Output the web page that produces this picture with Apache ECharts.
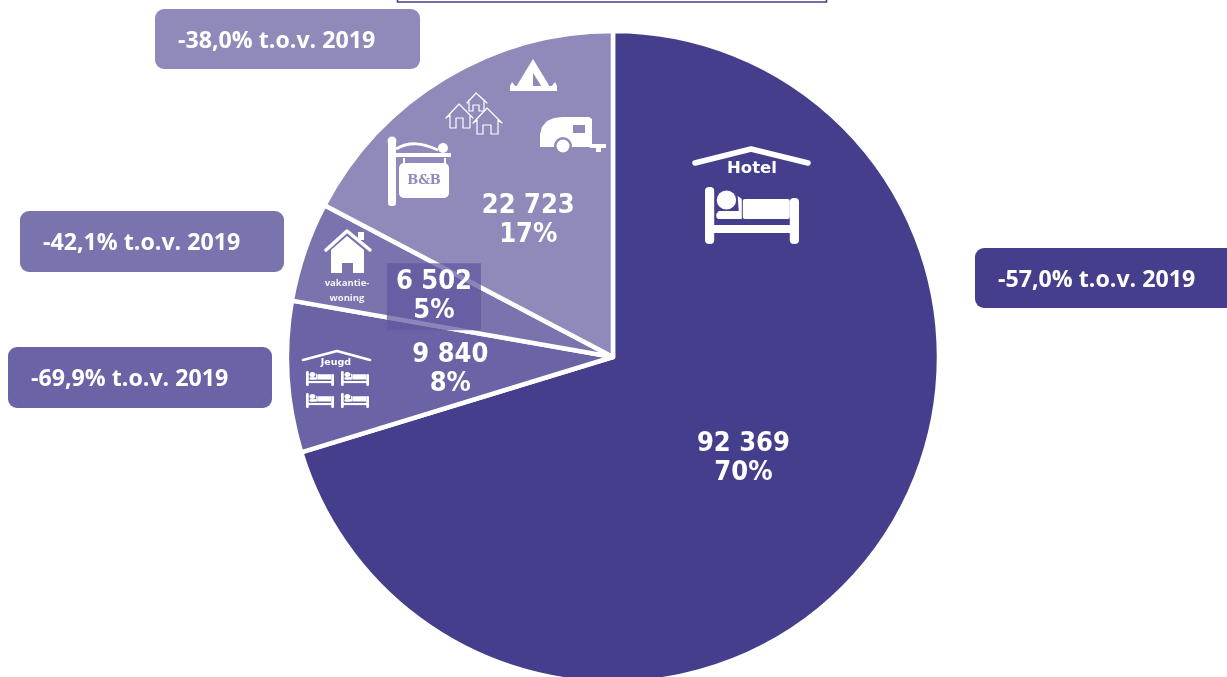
<!DOCTYPE html>
<html><head><meta charset="utf-8">
<style>html,body{margin:0;padding:0;background:#fff}#c{width:1227px;height:677px}</style>
<script src="https://cdn.jsdelivr.net/npm/echarts@6/dist/echarts.min.js"></script>
</head><body><div id="c"></div>
<script>
const categories = ['Hotel', 'Jeugd', 'Vakantiewoning', 'Overig'];
const values = [92369, 9840, 6502, 22723];
const valueLabels = ['92 369', '9 840', '6 502', '22 723'];
const shareLabels = ['70%', '8%', '5%', '17%'];
const changeLabels = ['-57,0% t.o.v. 2019', '-69,9% t.o.v. 2019', '-42,1% t.o.v. 2019', '-38,0% t.o.v. 2019'];
const colors = ['#453e8c', '#6a64a6', '#7a74ae', '#8f8aba'];
const W = '#ffffff';
const labelNudges = [[-3, 2.5], [3, 2.5], [-22, -6.5], [1, 5.5]];

const chart = echarts.init(document.getElementById('c'), null, {renderer: 'canvas'});

function callout(i, x, y, w, h) {
  return [
    {type: 'rect', shape: {x, y, width: w, height: h, r: 9}, style: {fill: colors[i]}},
    {type: 'text', x: x + 23, y: y + h / 2 + 2, style: {text: changeLabels[i], fill: W, font: 'bold 23.2px "Open Sans"', textAlign: 'left', textVerticalAlign: 'middle'}}
  ];
}
function line(points, lineWidth, stroke) {
  return {type: 'polyline', shape: {points}, style: {stroke: stroke || W, fill: 'none', lineWidth, lineCap: 'round', lineJoin: 'round'}};
}
function poly(points, fill) {
  return {type: 'polygon', shape: {points}, style: {fill: fill || W}};
}
function box(x, y, width, height, r, fill) {
  return {type: 'rect', shape: {x, y, width, height, r: r || 0}, style: {fill: fill || W}};
}
function bed(x, y, w, h) {
  const sx = w / 92, sy = h / 57;
  return {type: 'group', x, y, scaleX: sx, scaleY: sy, children: [
    box(0, 0, 9, 57, 4), box(83, 11, 9, 46, 4), box(0, 38, 92, 8),
    box(37, 12, 46, 20, 2),
    {type: 'circle', shape: {cx: 21, cy: 13, r: 9.5}, style: {fill: W}},
    poly([[13, 24], [33, 24], [32, 9], [36, 12], [36, 32], [13, 32]]),
    box(11, 25, 24, 7, 3)
  ]};
}
function house(ax, ay, lx, rx, ey, bl, br, by, dl, dr, dt) {
  return line([[lx, ey], [ax, ay], [rx, ey], [br, ey - 3], [br, by], [dr, by], [dr, dt], [dl, dt], [dl, by], [bl, by], [bl, ey - 3], [lx, ey]], 1.2);
}
function raise(el) {
  el.z = 10;
  (el.children || []).forEach(raise);
  return el;
}

const graphics = [
  {type: 'rect', shape: {x: 397.5, y: -6, width: 429, height: 8}, style: {fill: W, stroke: colors[0], lineWidth: 1.6}},
  ...callout(3, 155, 9, 265, 60),
  ...callout(2, 20, 211, 264, 61),
  ...callout(1, 8, 347, 264, 61),
  ...callout(0, 975, 248, 262, 60),
  // Hotel
  line([[695, 163], [751, 149], [808, 163]], 5.5),
  {type: 'text', x: 752, y: 169, style: {text: 'Hotel', fill: W, font: 'bold 16.5px "DejaVu Sans"', textAlign: 'center', textVerticalAlign: 'middle'}},
  bed(705, 187, 94, 57),
  // tent
  poly([[533, 59], [550, 87], [516, 87]]),
  poly([[533, 73], [533, 87], [542, 87]], colors[3]),
  box(510, 86, 47, 5), poly([[510, 86], [512, 82], [516, 87]]), poly([[557, 86], [555, 82], [551, 87]]),
  // caravan
  poly([[540, 147], [540, 134], [542, 127], [547, 121], [554, 118], [562, 117], [589, 117], [592, 119], [592, 147]]),
  box(590, 144, 16, 4), box(596, 146, 5, 6),
  {type: 'circle', shape: {cx: 563, cy: 146, r: 9}, style: {fill: colors[3]}},
  {type: 'circle', shape: {cx: 563, cy: 146, r: 6.5}, style: {fill: W}},
  box(573, 125, 12, 8, 0, colors[3]),
  // houses
  house(459, 104, 446, 473, 118, 450, 470, 128, 456, 463, 118),
  house(476, 93, 467, 487, 103, 469, 484, 111, 473, 479, 105),
  house(487, 108, 473, 502, 123, 477, 498, 134, 483, 491, 125),
  // B&B sign
  box(388, 140, 8, 66, 3),
  {type: 'circle', shape: {cx: 392, cy: 141, r: 4.5}, style: {fill: W}},
  {type: 'circle', shape: {cx: 443, cy: 148, r: 5}, style: {fill: W}},
  box(388, 153, 63, 4),
  {type: 'bezierCurve', shape: {x1: 396, y1: 149, cpx1: 410, cpy1: 141, cpx2: 422, cpy2: 143, x2: 438, y2: 150}, style: {stroke: W, fill: 'none', lineWidth: 3}},
  box(399, 163, 50, 35, 5),
  box(403, 158, 2, 6), box(444, 158, 2, 6),
  {type: 'text', x: 424, y: 181, style: {text: 'B&B', fill: colors[3], font: 'bold 13px "DejaVu Serif"', textAlign: 'center', textVerticalAlign: 'middle'}},
  // holiday home
  poly([[331, 250], [347, 236], [364, 250], [364, 273], [331, 273]]),
  box(342, 263, 11, 10, 0, colors[2]),
  box(358, 232, 6, 8),
  line([[326, 250], [347, 231], [370, 250]], 3.5),
  {type: 'text', x: 347, y: 283, style: {text: 'vakantie-', fill: W, font: 'bold 9.5px "Open Sans"', textAlign: 'center', textVerticalAlign: 'middle', opacity: 0.9}},
  {type: 'text', x: 347, y: 298, style: {text: 'woning', fill: W, font: 'bold 9.5px "Open Sans"', textAlign: 'center', textVerticalAlign: 'middle', opacity: 0.9}},
  // youth hostel
  line([[303, 360], [337, 351], [370, 360]], 2.5),
  {type: 'text', x: 336, y: 363, style: {text: 'Jeugd', fill: W, font: 'bold 9.5px "DejaVu Sans"', textAlign: 'center', textVerticalAlign: 'middle'}},
  bed(306, 371, 28, 15), bed(341, 371, 28, 15), bed(306, 393, 28, 15), bed(341, 393, 28, 15)
];
graphics.forEach(raise);

chart.setOption({
  animation: false,
  backgroundColor: W,
  series: [{
    type: 'pie',
    silent: true,
    center: [613, 357],
    radius: [0, 326],
    startAngle: 90,
    clockwise: true,
    avoidLabelOverlap: false,
    label: {
      show: true, position: 'inside', color: W,
      fontFamily: '"DejaVu Sans Condensed", "DejaVu Sans"', fontWeight: 'bold', fontSize: 27, lineHeight: 29,
      formatter: p => valueLabels[p.dataIndex] + '\n' + shareLabels[p.dataIndex]
    },
    labelLine: {show: false},
    itemStyle: {borderColor: W, borderWidth: 4.5},
    data: categories.map((name, i) => {
      const d = {name, value: values[i], itemStyle: {color: colors[i]}, label: {offset: labelNudges[i]}};
      if (i === 2) Object.assign(d.label, {backgroundColor: 'rgba(94,88,160,0.72)', padding: [8, 9, 1, 9]});
      return d;
    })
  }],
  graphic: {elements: [{type: 'group', silent: true, z: 10, children: graphics}]}
});
</script></body></html>
